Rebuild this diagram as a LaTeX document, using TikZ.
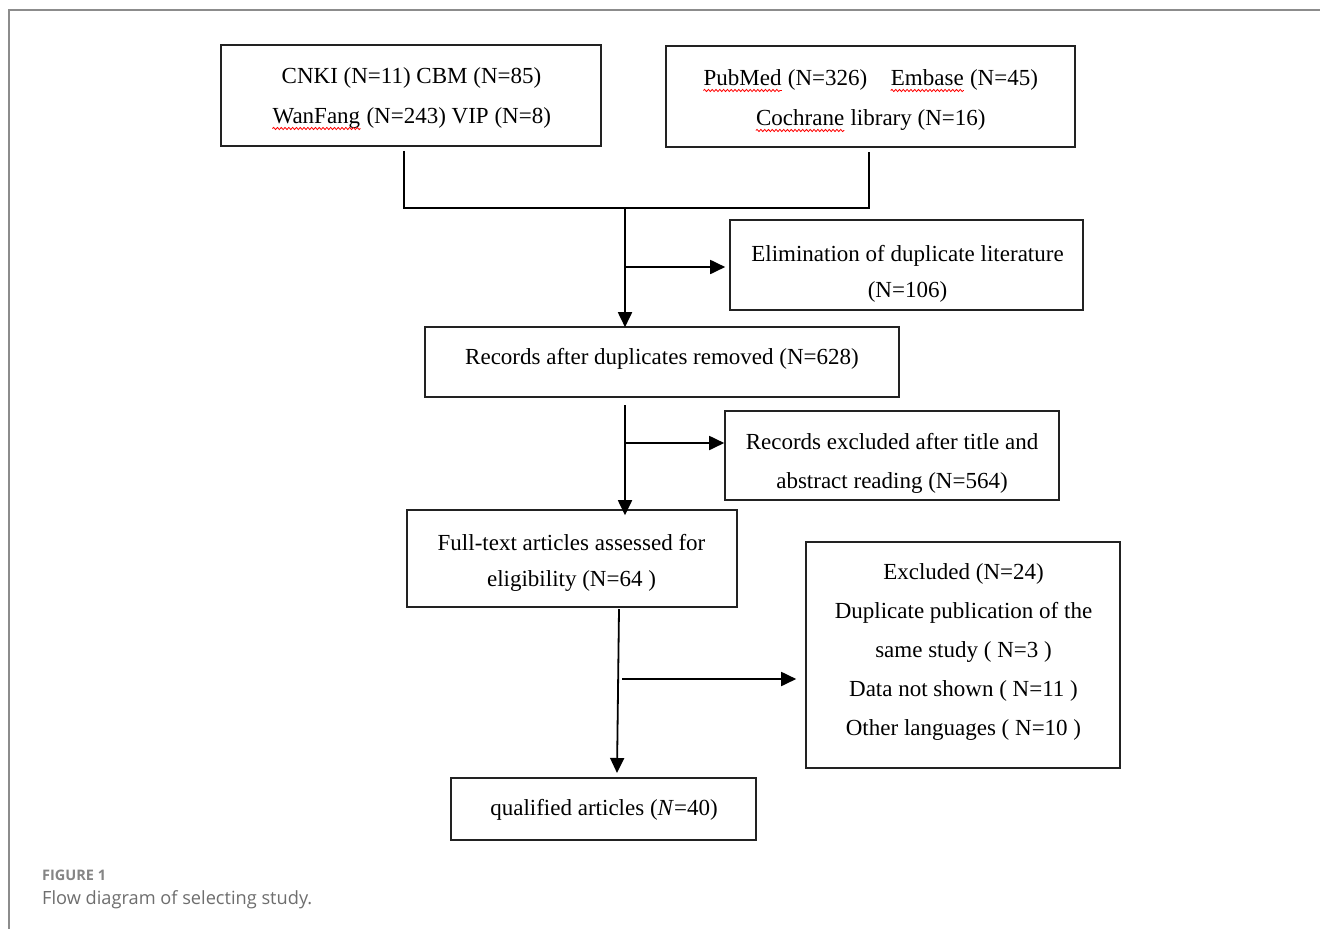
\documentclass[tikz,border=0pt]{standalone}
\usepackage{fontspec}
\setmainfont{Liberation Serif}
\newfontfamily\capfont{Open Sans}
\usetikzlibrary{arrows.meta,decorations.pathmorphing}
\newcommand\redwave[1]{\tikz[baseline=(wv.base)]{\node[inner sep=0pt, draw=none, minimum width=0pt, minimum height=0pt] (wv) {#1};
  \draw[red, line width=0.8pt, decorate, decoration={snake, amplitude=1.1pt, segment length=3.8pt}] ([yshift=-4.5pt]wv.base west) -- ([yshift=-4.5pt]wv.base east);}}
\definecolor{framegray}{HTML}{8C8C8C}
\definecolor{capgray}{HTML}{6E6E6E}
\definecolor{figgray}{HTML}{858585}
\definecolor{boxline}{HTML}{222222}
\tikzset{
  box/.style={draw=boxline, line width=1.6pt, inner sep=0pt},
  txt/.style={align=center, inner sep=0pt, font=\fontsize{23}{39}\selectfont},
  conn/.style={draw=black, line width=1.8pt},
  arr/.style={conn, -{Triangle[length=15pt,width=14pt]}},
}
\begin{document}
\begin{tikzpicture}[x=1pt,y=-1pt]
\useasboundingbox (0,0) rectangle (1320,929);
\fill[white] (0,0) rectangle (1320,929);
% frame
\draw[framegray, line width=2pt] (9,940) -- (9,9.5) -- (1330,9.5);

% boxes
\node[box, minimum width=380pt, minimum height=101pt] (b1) at (411,95.5) {};
\node[box, minimum width=409pt, minimum height=101pt] (b2) at (870.5,96.5) {};
\node[box, minimum width=353pt, minimum height=90pt] (b4) at (906.5,265) {};
\node[box, minimum width=474pt, minimum height=70pt] (b3) at (662,362) {};
\node[box, minimum width=334pt, minimum height=89pt] (b6) at (892,455.5) {};
\node[box, minimum width=330pt, minimum height=97pt] (b5) at (572,558.5) {};
\node[box, minimum width=314pt, minimum height=226pt] (b7) at (963,655) {};
\node[box, minimum width=305pt, minimum height=62pt] (b8) at (603.5,809) {};

% texts
\node[txt, font=\fontsize{23}{40}\selectfont] (t1) at (411.5,99)
  {CNKI (N=11) CBM (N=85)\\ \redwave{WanFang} (N=243) VIP (N=8)};
\node[txt, font=\fontsize{23}{40}\selectfont] (t2) at (870.5,101)
  {\redwave{PubMed} (N=326)\quad \redwave{Embase} (N=45)\\ \redwave{Cochrane} library (N=16)};
\node[txt, font=\fontsize{23}{36}\selectfont] (t4) at (907.5,274)
  {Elimination of duplicate literature\\ (N=106)};
\node[txt] (t3) at (662,359)
  {Records after duplicates removed (N=628)};
\node[txt] (t6) at (892,463.5)
  {Records excluded after title and\\ abstract reading (N=564)};
\node[txt, font=\fontsize{23}{36}\selectfont] (t5) at (571.5,563)
  {Full-text articles assessed for\\ eligibility (N=64 )};
\node[txt] (t7) at (963.5,652)
  {Excluded (N=24)\\ Duplicate publication of the\\ same study ( N=3 )\\ Data not shown ( N=11 )\\ Other languages ( N=10 )};
\node[txt] (t8) at (604,810)
  {qualified articles (\textit{N}=40)};

% connectors
\coordinate (m) at (625,208);
\coordinate (s1) at (625,267);
\coordinate (t) at (625,405);
\coordinate (s2) at (625,443);
\coordinate (u) at (619,609);
\coordinate (ue) at (617,773);
\coordinate (s3) at (622,679);

\draw[conn] ([xshift=-7pt,yshift=-4pt]b1.south) |- (m) -| ([xshift=-1.5pt,yshift=-4pt]b2.south);
\draw[arr] (m) -- ([yshift=-1pt]m |- b3.north);
\draw[arr] (s1) -- ([xshift=-4pt]s1 -| b4.west);
\draw[arr] (t) -- ([yshift=-6pt]t |- b5.north);
\draw[arr] (s2) -- (s2 -| b6.west);
\draw[arr] (u) -- (ue);
\draw[arr] (s3) -- ([xshift=-9pt]s3 -| b7.west);

% caption
\node[anchor=west, inner sep=0pt, text=figgray, font=\capfont\bfseries\fontsize{14.5}{16}\selectfont] (fig) at (42,875) {FIGURE 1};
\node[anchor=west, inner sep=0pt, text=capgray, font=\capfont\fontsize{18.2}{22}\selectfont] (cap) at (42,900) {Flow diagram of selecting study.};
\end{tikzpicture}
\end{document}
